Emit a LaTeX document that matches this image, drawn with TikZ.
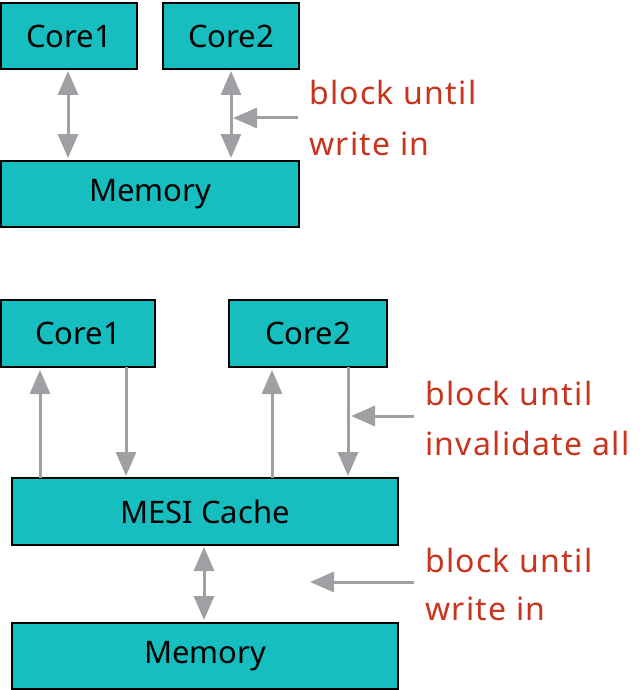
\documentclass[tikz,border=0pt]{standalone}
\usepackage{fontspec}
\setmainfont{Noto Sans}
\newfontfamily\redfont[LetterSpace=4]{Noto Sans}
\usetikzlibrary{arrows.meta}
\definecolor{tealbox}{RGB}{22,190,192}
\definecolor{arrgray}{RGB}{160,160,164}
\definecolor{redtxt}{RGB}{200,52,28}
\tikzset{
  hd/.tip={Triangle[length=24pt,width=20pt]},
  box/.style={draw=black, line width=2.2pt, fill=tealbox, inner sep=0pt, font=\fontsize{31}{36}\selectfont},
  conn/.style={draw=arrgray, line width=3pt},
  lbl/.style={text=redtxt, font=\redfont\fontsize{32}{36}\selectfont, anchor=base west, inner sep=0pt}
}
\begin{document}
\begin{tikzpicture}[x=1pt,y=-1pt]
\useasboundingbox[fill=white] (0,0) rectangle (642,690);
% top diagram
\node[box, minimum width=136pt, minimum height=66pt] (c1a) at (69,36) {Core1};
\node[box, minimum width=136pt, minimum height=66pt] (c2a) at (231,36) {Core2};
\node[box, minimum width=298pt, minimum height=66pt] (ma) at (150,194) {Memory};
\coordinate (c1aB) at (68,71);
\coordinate (c1aM) at (68,158);
\coordinate (c2aB) at (231,71);
\coordinate (c2aM) at (231,158);
\draw[conn, hd-hd] (c1aB) -- (c1aM);
\draw[conn, hd-hd] (c2aB) -- (c2aM);
\coordinate (sa1) at (298,118);
\coordinate (sa2) at (233,118);
\draw[conn, -hd] (sa1) -- (sa2);
\node[lbl] (la1) at (309,105) {block until};
\node[lbl] (la2) at (309,155) {write in};
% bottom diagram
\node[box, minimum width=154pt, minimum height=67pt] (c1b) at (78,333.5) {Core1};
\node[box, minimum width=158pt, minimum height=67pt] (c2b) at (308,333.5) {Core2};
\node[box, minimum width=386pt, minimum height=67pt] (mesi) at (205,511.5) {MESI Cache};
\node[box, minimum width=386pt, minimum height=66pt] (mb) at (205,656) {Memory};
% arrows
\coordinate (u1s) at (40,478);
\coordinate (u1e) at (40,370);
\coordinate (d1s) at (126,367);
\coordinate (d1e) at (126,476);
\coordinate (u2s) at (272,478);
\coordinate (u2e) at (272,370);
\coordinate (d2s) at (348,367);
\coordinate (d2e) at (348,476);
\draw[conn, -hd] (u1s) -- (u1e);
\draw[conn, -hd] (d1s) -- (d1e);
\draw[conn, -hd] (u2s) -- (u2e);
\draw[conn, -hd] (d2s) -- (d2e);
\coordinate (sb1) at (414,416);
\coordinate (sb2) at (351,416);
\draw[conn, -hd] (sb1) -- (sb2);
\coordinate (mm1) at (204,547);
\coordinate (mm2) at (204,620);
\draw[conn, hd-hd] (mm1) -- (mm2);
\coordinate (sc1) at (414,582);
\coordinate (sc2) at (310,582);
\draw[conn, -hd] (sc1) -- (sc2);
\node[lbl] (lb1) at (425,405) {block until};
\node[lbl] (lb2) at (425,455) {invalidate all};
\node[lbl] (lc1) at (425,572) {block until};
\node[lbl] (lc2) at (425,620) {write in};
\end{tikzpicture}
\end{document}
